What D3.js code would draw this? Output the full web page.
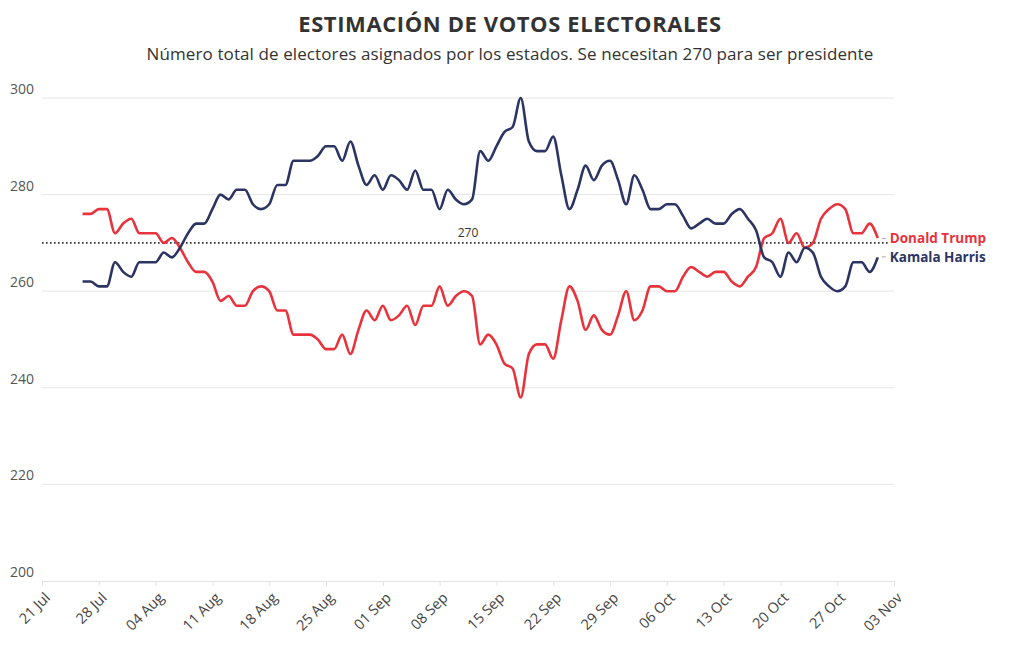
<!DOCTYPE html>
<html><head><meta charset="utf-8">
<script src="https://cdn.jsdelivr.net/npm/d3@7"></script>
<style>
body{margin:0;background:#fff;}
svg{display:block;font-family:"Open Sans",sans-serif;}
</style></head>
<body><svg id="chart" width="1020" height="650"></svg>
<script>
const startDate = "2024-07-26";
const harris = [262,262,261,261,266,264,263,266,266,266,268,267,269,272,274,274,277,280,279,281,281,278,277,278,282,282,287,287,287,288,290,290,287,291,286,282,284,281,284,283,281,285,281,281,277,281,279,278,279,289,287,290,293,294,300,291,289,289,292,284,277,281,286,283,286,287,283,278,284,281,277,277,278,278,275.6,273,274,275,274,274,276,277,275,272.6,267,266,263,268,266,269,268,263,261,260,261,266,266,264,267];
const trump = [276,276,277,277,272,274,275,272,272,272,270,271,269,266,264,264,262,258,259,257,257,260,261,260,256,256,251,251,251,250,248,248,251,247,252,256,254,257,254,255,257,253,257,257,261,257,259,260,259,249,251,249,245,244,238,247,249,249,246,254,261,258,252,255,252,251,255,260,254,256,261,261,260,260,263,265,264,263,264,264,262,261,263,265,271,272,275,270,272,269,270,275,277,278,277,272,272,274,271];
const tickLabels = ["21 Jul","28 Jul","04 Aug","11 Aug","18 Aug","25 Aug","01 Sep","08 Sep","15 Sep","22 Sep","29 Sep","06 Oct","13 Oct","20 Oct","27 Oct","03 Nov"];
const yTicks = [200,220,240,260,280,300];
const threshold = 270;
const seriesNames = ["Donald Trump","Kamala Harris"];
const colors = ["#e8333c","#2b3462"];

const svg = d3.select("#chart");
const parse = d3.utcParse("%Y-%m-%d");
const d0 = parse(startDate);
const dates = harris.map((_, i) => d3.utcDay.offset(d0, i));
const x = d3.scaleUtc().domain([parse("2024-07-21"), parse("2024-11-03")]).range([42, 894]);
const y = d3.scaleLinear().domain([200, 300]).range([581, 98]);

svg.append("text").attr("x", 510).attr("y", 32).attr("text-anchor", "middle")
  .style("font-size", "22px").style("font-weight", "700").style("letter-spacing", "0.6px").attr("fill", "#333")
  .text("ESTIMACIÓN DE VOTOS ELECTORALES");
svg.append("text").attr("x", 510).attr("y", 60).attr("text-anchor", "middle")
  .style("font-size", "17px").style("letter-spacing", "0.1px").attr("fill", "#333")
  .text("Número total de electores asignados por los estados. Se necesitan 270 para ser presidente");

// grid
svg.append("g").selectAll("line").data(yTicks.filter(d => d > 200)).join("line")
  .attr("x1", 42).attr("x2", 894).attr("y1", d => y(d)).attr("y2", d => y(d))
  .attr("stroke", "#e6e6e6").attr("stroke-width", 1);
svg.append("g").selectAll("text").data(yTicks).join("text")
  .attr("x", 10).attr("y", d => y(d) - 4)
  .style("font-size", "14px").attr("fill", "#555").text(d => d);

// x axis
const tickDates = tickLabels.map((_, i) => d3.utcDay.offset(parse("2024-07-21"), 7 * i));
const xAxis = d3.axisBottom(x).tickValues(tickDates).tickSize(5)
  .tickFormat((d, i) => tickLabels[i]);
const gx = svg.append("g").attr("transform", "translate(0,581)").call(xAxis);
gx.select(".domain").attr("stroke", "#e3e3e3");
gx.selectAll(".tick line").attr("stroke", "#e3e3e3");
gx.selectAll(".tick text").attr("fill", "#444").style("font-size", "14.5px")
  .style("font-family", "'Open Sans',sans-serif")
  .attr("text-anchor", "end").attr("dx", 0).attr("dy", 0)
  .attr("transform", "translate(3,12) rotate(-45)");

// threshold
svg.append("line").attr("x1", 42).attr("x2", 890).attr("y1", y(threshold)).attr("y2", y(threshold))
  .attr("stroke", "#333").attr("stroke-width", 1.6).attr("stroke-dasharray", "1.6,2.4");
svg.append("text").attr("x", 468).attr("y", y(threshold) - 6).attr("text-anchor", "middle")
  .style("font-size", "12px").attr("fill", "#333").text(threshold);

const line = d3.line().x((d, i) => x(dates[i])).y(d => y(d)).curve(d3.curveMonotoneX);
[trump, harris].forEach((s, k) => {
  svg.append("path").datum(s).attr("d", line).attr("fill", "none")
    .attr("stroke", colors[k]).attr("stroke-width", 2.6).attr("stroke-linejoin", "round");
});

// labels
const lastX = x(dates[dates.length - 1]);
const labelY = [y(trump[trump.length - 1]) + 0.5, y(harris[harris.length - 1]) - 0.5];
[0, 1].forEach(k => {
  svg.append("line").attr("x1", lastX + 4).attr("x2", lastX + 8)
    .attr("y1", labelY[k]).attr("y2", labelY[k]).attr("stroke", "#aaa");
  svg.append("text").attr("x", lastX + 12).attr("y", labelY[k]).attr("dy", "0.35em")
    .style("font-size", "13.5px").style("font-weight", "700").attr("fill", colors[k])
    .text(seriesNames[k]);
});
</script></body></html>
